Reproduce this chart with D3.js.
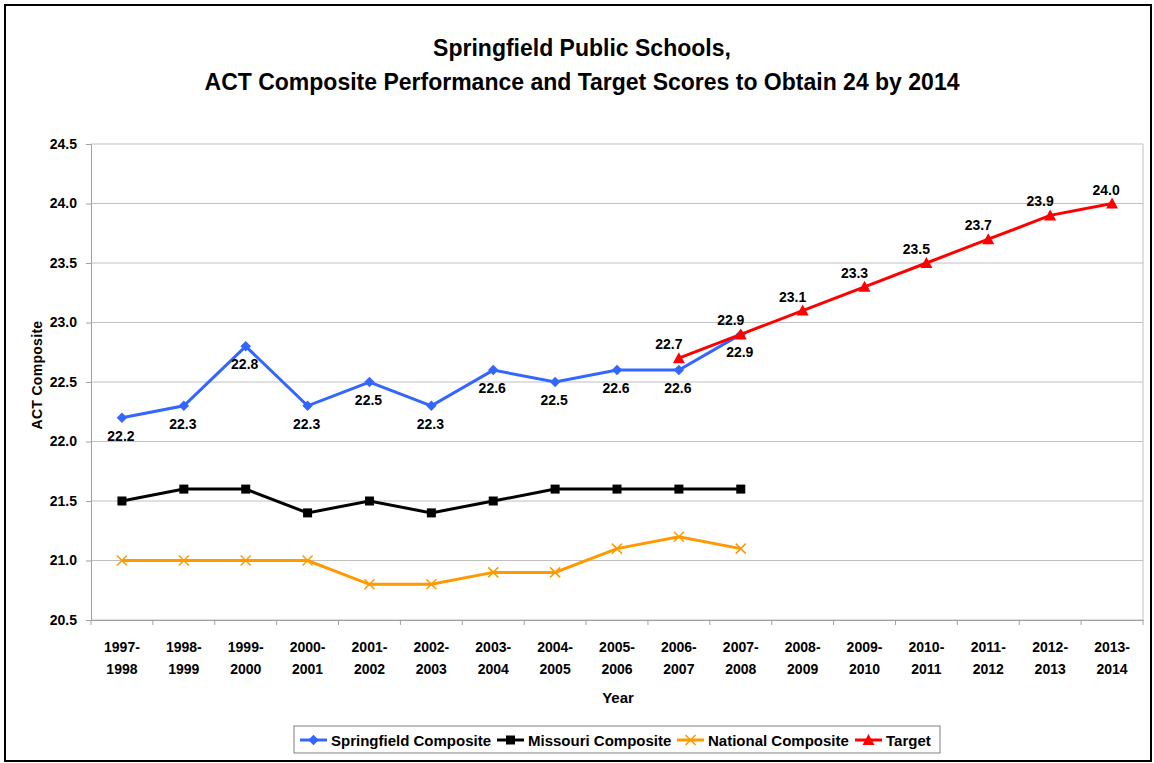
<!DOCTYPE html>
<html>
<head>
<meta charset="utf-8">
<script src="https://cdn.jsdelivr.net/npm/d3@7"></script>
<style>
  body { margin: 0; background: #fff; }
  svg { font-family: "Liberation Sans", Arial, sans-serif; }
</style>
</head>
<body>
<svg id="chart" width="1154" height="763"></svg>
<script>
// chart values
const years = ["1997-1998", "1998-1999", "1999-2000", "2000-2001", "2001-2002", "2002-2003",
  "2003-2004", "2004-2005", "2005-2006", "2006-2007", "2007-2008", "2008-2009",
  "2009-2010", "2010-2011", "2011-2012", "2012-2013", "2013-2014"]
const springfield = [22.2, 22.3, 22.8, 22.3, 22.5, 22.3, 22.6, 22.5, 22.6, 22.6, 22.9]
const missouri = [21.5, 21.6, 21.6, 21.4, 21.5, 21.4, 21.5, 21.6, 21.6, 21.6, 21.6]
const national = [21.0, 21.0, 21.0, 21.0, 20.8, 20.8, 20.9, 20.9, 21.1, 21.2, 21.1]
const targetYears = years.slice(9)
const target = [22.7, 22.9, 23.1, 23.3, 23.5, 23.7, 23.9, 24.0]
const yTicks = [20.5, 21.0, 21.5, 22.0, 22.5, 23.0, 23.5, 24.0, 24.5]

const margin = { top: 144, bottom: 143, left: 91, right: 11 }

let svg = d3.select("#chart")
let width = +svg.attr("width")
let height = +svg.attr("height")

// outer frame
svg.append("rect")
  .attr("x", 5).attr("y", 5)
  .attr("width", 1146).attr("height", 756)
  .attr("fill", "none").attr("stroke", "#000").attr("stroke-width", 2)

// title
svg.append("text")
  .attr("x", 582).attr("y", 56)
  .attr("text-anchor", "middle")
  .attr("font-size", 23).attr("font-weight", "bold")
  .text("Springfield Public Schools,")
svg.append("text")
  .attr("x", 582).attr("y", 90)
  .attr("text-anchor", "middle")
  .attr("font-size", 23).attr("font-weight", "bold")
  .text("ACT Composite Performance and Target Scores to Obtain 24 by 2014")

const xScale = d3.scaleBand()
  .domain(years)
  .range([margin.left, width - margin.right])

const yScale = d3.scaleLinear()
  .domain([20.5, 24.5])
  .range([height - margin.bottom, margin.top])

const cx = d => xScale(d) + xScale.bandwidth() / 2

// gridlines
svg.append("g")
  .selectAll("line")
  .data(yTicks)
  .enter()
  .append("line")
  .attr("x1", margin.left).attr("x2", width - margin.right)
  .attr("y1", d => yScale(d)).attr("y2", d => yScale(d))
  .attr("stroke", "#c0c0c0").attr("stroke-width", 1)

// right border of plot area
svg.append("line")
  .attr("x1", width - margin.right).attr("x2", width - margin.right)
  .attr("y1", margin.top).attr("y2", height - margin.bottom)
  .attr("stroke", "#c0c0c0")

// y axis
let y_axis = d3.axisLeft(yScale).tickValues(yTicks).tickFormat(d3.format(".1f")).tickSize(5).tickPadding(9)
let gy = svg.append("g")
  .attr("transform", "translate(" + margin.left + ",0)")
  .call(y_axis)
gy.selectAll("path, line").attr("stroke", "#a0a0a0")
gy.selectAll("text").attr("font-size", 14).attr("font-weight", "bold").attr("fill", "#000")
  .attr("font-family", "Liberation Sans, Arial, sans-serif")

// x axis
let x_axis = d3.axisBottom(xScale).tickSize(0).tickFormat("")
let gx = svg.append("g")
  .attr("transform", "translate(0," + (height - margin.bottom) + ")")
  .call(x_axis)
gx.select("path").attr("stroke", "#a0a0a0")
gx.selectAll(".boundary")
  .data(years.concat(["end"]))
  .enter()
  .append("line")
  .attr("class", "boundary")
  .attr("x1", (d, i) => margin.left + i * xScale.bandwidth())
  .attr("x2", (d, i) => margin.left + i * xScale.bandwidth())
  .attr("y1", 0).attr("y2", 5)
  .attr("stroke", "#a0a0a0")

let xLabels = svg.append("g").selectAll("text")
  .data(years)
  .enter()
  .append("text")
  .attr("text-anchor", "middle")
  .attr("font-size", 14).attr("font-weight", "bold")
xLabels.append("tspan").attr("x", d => cx(d)).attr("y", 652).text(d => d.split("-")[0] + "-")
xLabels.append("tspan").attr("x", d => cx(d)).attr("y", 674).text(d => d.split("-")[1])

// axis titles
svg.append("text")
  .attr("x", 618).attr("y", 703)
  .attr("text-anchor", "middle")
  .attr("font-size", 15).attr("font-weight", "bold")
  .text("Year")
svg.append("text")
  .attr("transform", "translate(42,375) rotate(-90)")
  .attr("text-anchor", "middle")
  .attr("font-size", 14).attr("font-weight", "bold")
  .attr("letter-spacing", 0.3)
  .text("ACT Composite")

const line = d3.line().x(d => cx(d.year)).y(d => yScale(d.value))

function makeSeries(xs, vals) {
  return vals.map((v, i) => ({ year: xs[i], value: v }))
}

const series = [
  { name: "Springfield Composite", color: "#3366ff", marker: "diamond", data: makeSeries(years, springfield) },
  { name: "Missouri Composite", color: "#000000", marker: "square", data: makeSeries(years, missouri) },
  { name: "National Composite", color: "#ff9900", marker: "cross", data: makeSeries(years, national) },
  { name: "Target", color: "#ff0000", marker: "triangle", data: makeSeries(targetYears, target) },
]

function drawMarker(g, type, color, x, y) {
  if (type === "diamond") {
    g.append("path").attr("d", d3.symbol(d3.symbolDiamond2, 70)()).attr("transform", `translate(${x},${y})`)
      .attr("fill", color)
  } else if (type === "square") {
    g.append("rect").attr("x", x - 4.5).attr("y", y - 4.5).attr("width", 9).attr("height", 9).attr("fill", color)
  } else if (type === "cross") {
    g.append("path").attr("d", `M${x - 5},${y - 5}L${x + 5},${y + 5}M${x - 5},${y + 5}L${x + 5},${y - 5}`)
      .attr("stroke", color).attr("stroke-width", 1.5)
  } else if (type === "triangle") {
    g.append("path").attr("d", `M${x},${y - 6}L${x + 6},${y + 5}L${x - 6},${y + 5}Z`).attr("fill", color)
  }
}

series.forEach(s => {
  let g = svg.append("g")
  g.append("path")
    .datum(s.data)
    .attr("d", line)
    .attr("fill", "none")
    .attr("stroke", s.color)
    .attr("stroke-width", 3)
  s.data.forEach(d => drawMarker(g, s.marker, s.color, cx(d.year), yScale(d.value)))
})

// data labels
svg.append("g").selectAll("text")
  .data(series[0].data)
  .enter()
  .append("text")
  .attr("x", d => cx(d.year) - 1)
  .attr("y", d => yScale(d.value) + 23)
  .attr("text-anchor", "middle")
  .attr("font-size", 14).attr("font-weight", "bold")
  .text(d => d.value.toFixed(1))

svg.append("g").selectAll("text")
  .data(series[3].data)
  .enter()
  .append("text")
  .attr("x", (d, i) => cx(d.year) - (i === target.length - 1 ? 6 : 10))
  .attr("y", d => yScale(d.value) - 9)
  .attr("text-anchor", "middle")
  .attr("font-size", 14).attr("font-weight", "bold")
  .text(d => d.value.toFixed(1))

// legend
let legend = svg.append("g")
legend.append("rect")
  .attr("x", 294).attr("y", 726).attr("width", 646).attr("height", 27)
  .attr("fill", "#fff").attr("stroke", "#808080").attr("stroke-width", 1)
const legendX = [300, 497, 677, 855]
series.forEach((s, i) => {
  let lx = legendX[i], ly = 740
  legend.append("line").attr("x1", lx).attr("x2", lx + 27).attr("y1", ly).attr("y2", ly)
    .attr("stroke", s.color).attr("stroke-width", 3)
  drawMarker(legend, s.marker, s.color, lx + 13.5, ly)
  legend.append("text").attr("x", lx + 31).attr("y", ly + 6)
    .attr("font-size", 15).attr("font-weight", "bold")
    .text(s.name)
})
</script>
</body>
</html>
